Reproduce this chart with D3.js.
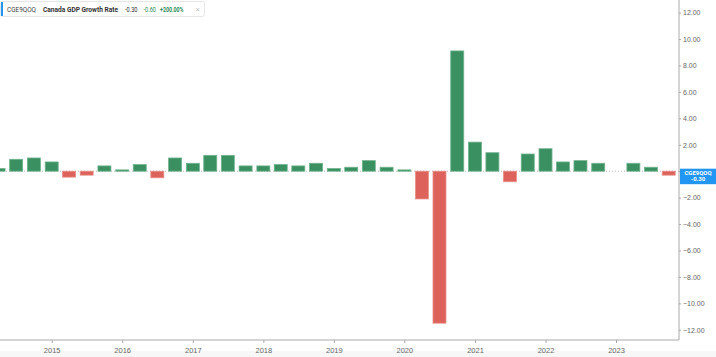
<!DOCTYPE html>
<html>
<head>
<meta charset="utf-8">
<script src="https://cdn.jsdelivr.net/npm/d3@7"></script>
<style>
  body { margin: 0; background: #fff; }
  svg { display: block; font-family: Roboto, "Open Sans", sans-serif; }
</style>
</head>
<body>
<div id="chart-area"></div>
<script>
// chart size
width = 716;
height = 357

// quarterly data, each bar sits at the first day after its quarter
let quarters = ["2014-04-01","2014-07-01","2014-10-01","2015-01-01",
  "2015-04-01","2015-07-01","2015-10-01","2016-01-01",
  "2016-04-01","2016-07-01","2016-10-01","2017-01-01",
  "2017-04-01","2017-07-01","2017-10-01","2018-01-01",
  "2018-04-01","2018-07-01","2018-10-01","2019-01-01",
  "2019-04-01","2019-07-01","2019-10-01","2020-01-01",
  "2020-04-01","2020-07-01","2020-10-01","2021-01-01",
  "2021-04-01","2021-07-01","2021-10-01","2022-01-01",
  "2022-04-01","2022-07-01","2022-10-01","2023-01-01",
  "2023-04-01","2023-07-01","2023-10-01"]
let growth = [0.2, 0.9, 1.0, 0.7,
  -0.45, -0.3, 0.4, 0.1,
  0.5, -0.5, 1.0, 0.6,
  1.2, 1.2, 0.4, 0.4,
  0.5, 0.4, 0.6, 0.2,
  0.3, 0.8, 0.3, 0.1,
  -2.1, -11.5, 9.1, 2.2,
  1.4, -0.8, 1.3, 1.7,
  0.7, 0.8, 0.6, 0.0,
  0.6, 0.3, -0.3]
let yearTicks = [2015, 2016, 2017, 2018, 2019, 2020, 2021, 2022, 2023]
let yTicks = [12, 10, 8, 6, 4, 2, 0, -2, -4, -6, -8, -10, -12]

let data = quarters.map((q, i) => ({date: new Date(q + "T00:00:00"), value: growth[i]}))

let plotRight = 679
let plotBottom = 340

// x scale: 2015 tick at ~51.7px, 2023 tick at ~616px
let xScale = d3.scaleTime()
  .domain([new Date("2015-01-01T00:00:00"), new Date("2023-01-01T00:00:00")])
  .range([51.7, 616])

let yScale = d3.scaleLinear().domain([-12, 12]).range([329.8, 12.6])

let barWidth = 13

svg = d3.select("#chart-area")
  .append("svg")
  .attr("width", width)
  .attr("height", height)

// light band under the x axis
svg.append("rect")
  .attr("x", 0).attr("y", 351)
  .attr("width", width).attr("height", 6)
  .attr("fill", "#f7f7f7")

// zero line
svg.append("line")
  .attr("x1", 0).attr("x2", plotRight)
  .attr("y1", yScale(0)).attr("y2", yScale(0))
  .attr("stroke", "#bbb")
  .attr("stroke-dasharray", "1,2")

// bars
svg.selectAll("rect.bar")
  .data(data)
  .enter().append("rect")
  .attr("class", "bar")
  .attr("x", d => xScale(d.date) - barWidth / 2)
  .attr("width", barWidth)
  .attr("y", d => yScale(Math.max(0, d.value)))
  .attr("height", d => Math.abs(yScale(d.value) - yScale(0)))
  .attr("fill", d => d.value >= 0 ? "#3b9062" : "#dc625b")
  .attr("stroke", d => d.value >= 0 ? "#6fb38d" : "#e9918b")
  .attr("stroke-width", 0.8)

// x axis
let xAxis = d3.axisBottom(xScale)
  .tickValues(yearTicks.map(y => new Date(y + "-01-01T00:00:00")))
  .tickFormat(d3.timeFormat("%Y"))
  .tickSize(3)
  .tickSizeOuter(0)

let gx = svg.append("g")
  .attr("transform", "translate(0," + plotBottom + ")")
  .call(xAxis)
gx.select(".domain").attr("d", "M0,0H" + plotRight).attr("stroke", "#aaa")
gx.selectAll(".tick line").attr("stroke", "#aaa")
gx.selectAll(".tick text")
  .attr("fill", "#666")
  .attr("font-size", "7.5px")
  .attr("dy", "0.95em")

// y axis on the right (0.00 sits under the value label)
let yAxis = d3.axisRight(yScale)
  .tickValues(yTicks)
  .tickFormat(d => d === 0 ? "" : d3.format(".2f")(d))
  .tickSize(2)
  .tickPadding(2)

let gy = svg.append("g")
  .attr("transform", "translate(" + plotRight + ",0)")
  .call(yAxis)
gy.select(".domain").attr("d", "M0,0V" + plotBottom).attr("stroke", "#aaa")
gy.selectAll(".tick line").attr("stroke", "#aaa")
gy.selectAll(".tick text")
  .attr("fill", "#666")
  .attr("font-size", "7px")

// last value label
let last = data[data.length - 1]
let labelY = yScale(0) - 2.5
let labelX = (plotRight + width) / 2 + 0.5
svg.append("rect")
  .attr("x", plotRight + 1).attr("y", labelY)
  .attr("width", width - plotRight - 1).attr("height", 15.5)
  .attr("fill", "#2196f3")
svg.append("text")
  .attr("x", labelX).attr("y", labelY + 6.2)
  .attr("text-anchor", "middle")
  .attr("fill", "#fff")
  .attr("font-size", "6px")
  .attr("font-weight", "bold")
  .text("CGE9QOQ")
svg.append("text")
  .attr("x", labelX).attr("y", labelY + 12.6)
  .attr("text-anchor", "middle")
  .attr("fill", "#fff")
  .attr("font-size", "6px")
  .attr("font-weight", "bold")
  .text(last.value.toFixed(2))

// legend box
let legend = svg.append("g")
legend.append("rect")
  .attr("x", 0.5).attr("y", 1.5)
  .attr("width", 204).attr("height", 15)
  .attr("rx", 2)
  .attr("fill", "#fff")
  .attr("stroke", "#e6e6e6")
legend.append("rect")
  .attr("x", 1).attr("y", 2)
  .attr("width", 2).attr("height", 14)
  .attr("fill", "#2196f3")

let legendText = [
  {x: 7, w: 29, text: "CGE9QOQ", fill: "#444", weight: "normal"},
  {x: 43, w: 75, text: "Canada GDP Growth Rate", fill: "#333", weight: "bold"},
  {x: 125, w: 12.5, text: "-0.30", fill: "#333", weight: "normal"},
  {x: 143.5, w: 12.5, text: "-0.60", fill: "#2e8b57", weight: "normal"},
  {x: 160, w: 23.5, text: "+200.00%", fill: "#2e8b57", weight: "bold"}
]
legend.selectAll("text.leg")
  .data(legendText)
  .enter().append("text")
  .attr("class", "leg")
  .attr("x", d => d.x)
  .attr("y", 11.5)
  .attr("font-size", "7px")
  .attr("font-weight", d => d.weight)
  .attr("fill", d => d.fill)
  .attr("textLength", d => d.w)
  .attr("lengthAdjust", "spacingAndGlyphs")
  .text(d => d.text)

legend.append("text")
  .attr("x", 195.5).attr("y", 12)
  .attr("font-size", "8px")
  .attr("fill", "#c4c4c4")
  .text("×")
</script>
</body>
</html>
